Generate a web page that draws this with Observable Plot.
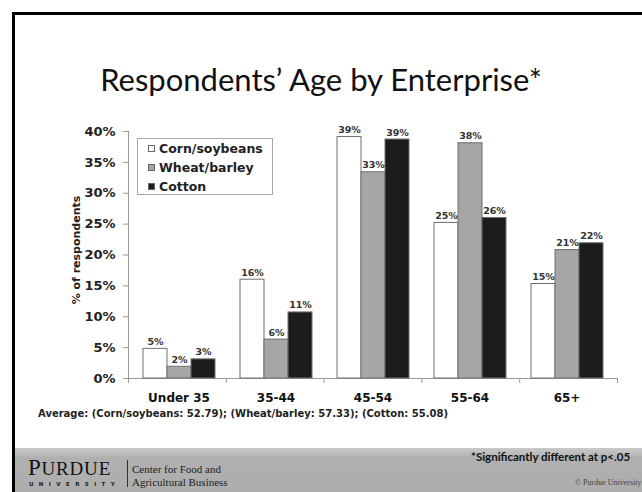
<!DOCTYPE html>
<html><head><meta charset="utf-8">
<script src="https://cdn.jsdelivr.net/npm/d3@7"></script>
<script src="https://cdn.jsdelivr.net/npm/@observablehq/plot@0.6"></script>
<style>
body{margin:0;background:#fff;}
#slide{position:relative;width:642px;height:492px;overflow:hidden;background:#fff;}
.abs{position:absolute;}
#border{left:12px;top:12px;width:660px;height:500px;border:3px solid #000;box-sizing:border-box;}
#title{left:12px;width:618px;top:64px;text-align:center;font-family:Lato,'Open Sans',sans-serif;font-size:31px;line-height:1;color:#111;white-space:nowrap;}
#charts svg{position:absolute;left:0;top:0;}
#ylabel{left:76px;top:250px;width:0;height:0;}
#ylabel span{position:absolute;transform:translate(-50%,-50%) rotate(-90deg);white-space:nowrap;font-family:'DejaVu Sans',Verdana,sans-serif;font-weight:bold;font-size:11px;color:#222;}
#legend{left:137px;top:138px;width:136px;height:57px;border:1px solid #a8a8a8;box-sizing:border-box;background:#fff;font-family:'DejaVu Sans',Verdana,sans-serif;font-weight:bold;font-size:12.5px;color:#222;}
.lrow{position:absolute;left:10px;height:14px;line-height:14px;white-space:nowrap;}
.sw{display:inline-block;width:7px;height:7px;box-sizing:border-box;border:1px solid #666;margin-right:4px;vertical-align:1px;}
#avg{left:38px;top:409px;font-family:'DejaVu Sans',Verdana,sans-serif;font-weight:bold;font-size:10px;line-height:1;color:#222;white-space:nowrap;}
#banner{left:15px;top:448px;width:640px;height:50px;background:linear-gradient(#c9c9c9,#b0b0b0 20%,#adadad);}
#purdue{left:28px;top:459px;font-family:'Liberation Serif','DejaVu Serif',serif;font-size:19px;line-height:18px;height:18px;color:#111;letter-spacing:0.8px;white-space:nowrap;}
#purdue .big{font-size:23px;}
#univ{left:29px;top:481px;font-family:'DejaVu Sans',sans-serif;font-weight:bold;font-size:5.5px;line-height:6px;color:#222;letter-spacing:5.4px;white-space:nowrap;}
#vline{left:127px;top:460px;width:1px;height:27px;background:#333;}
#center{left:132px;top:463px;font-family:'Liberation Serif','DejaVu Serif',serif;font-size:11px;line-height:13px;color:#222;white-space:nowrap;}
#sig{left:471px;top:451px;font-family:Lato,sans-serif;font-weight:bold;font-size:11.5px;line-height:1;color:#111;white-space:nowrap;}
#copy{left:575px;top:479px;font-family:'Liberation Serif',serif;font-size:8px;line-height:1;color:#444;white-space:nowrap;}
</style></head>
<body>
<div id="slide">
  <div id="border" class="abs"></div>
  <div id="title" class="abs">Respondents’ Age by Enterprise*</div>
  <div id="charts" class="abs" style="left:0;top:0;width:642px;height:430px;"></div>
  <div id="ylabel" class="abs"><span>% of respondents</span></div>
  <div id="legend" class="abs"></div>
  <div id="avg" class="abs"></div>
  <div id="banner" class="abs"></div>
  <div id="purdue" class="abs"><span class="big">P</span>URDUE</div>
  <div id="univ" class="abs">UNIVERSITY</div>
  <div id="vline" class="abs"></div>
  <div id="center" class="abs">Center for Food and<br>Agricultural Business</div>
  <div id="sig" class="abs">*Significantly different at p&lt;.05</div>
  <div id="copy" class="abs">© Purdue University</div>
</div>
<script>
// ---- data ----
const ages = ["Under 35", "35-44", "45-54", "55-64", "65+"];
const series = ["Corn/soybeans", "Wheat/barley", "Cotton"];
const cornSoybeans = [4.8, 16.0, 39.1, 25.2, 15.3];
const wheatBarley = [1.9, 6.3, 33.4, 38.1, 20.8];
const cotton = [3.1, 10.7, 38.7, 26.0, 21.9];
const averages = [52.79, 57.33, 55.08];
const yTicks = [0, 5, 10, 15, 20, 25, 30, 35, 40];
const fills = ["#ffffff", "#a6a6a6", "#1c1c1c"];

const valuesBySeries = [cornSoybeans, wheatBarley, cotton];
const rows = [];
ages.forEach((age, i) => series.forEach((s, j) => rows.push({age, series: s, value: valuesBySeries[j][i]})));

const W = 642, H = 430, mL = 128, mR = 25, mT = 131, mB = 52;
const font = "'DejaVu Sans', Verdana, sans-serif";

const axes = Plot.plot({
  width: W, height: H, marginLeft: mL, marginRight: mR, marginTop: mT, marginBottom: mB,
  style: {background: "transparent", fontFamily: font, fontWeight: "bold", color: "#222", overflow: "visible"},
  x: {domain: [0, ages.length], axis: null},
  y: {domain: [0, 40], axis: null},
  marks: [
    Plot.ruleY([0], {stroke: "#9a9a9a"}),
    Plot.ruleX([0], {stroke: "#9a9a9a"}),
    Plot.axisX(d3.range(ages.length + 1), {anchor: "bottom", tickSize: 5, tickFormat: () => "", stroke: "#9a9a9a", label: null}),
    Plot.axisY(yTicks, {anchor: "left", tickSize: 5, tickPadding: 8, tickFormat: d => d + "%", fontSize: 13, stroke: "#9a9a9a", fill: "#222", label: null})
  ]
});

const chart = Plot.plot({
  width: W, height: H, marginLeft: mL, marginRight: mR, marginTop: mT, marginBottom: mB,
  style: {background: "transparent", fontFamily: font, fontWeight: "bold", color: "#222", overflow: "visible"},
  fx: {domain: ages, padding: 0},
  x: {domain: series, paddingInner: 0, paddingOuter: 0.5, axis: null},
  y: {domain: [0, 40], axis: null},
  color: {domain: series, range: fills},
  marks: [
    Plot.barY(rows, {fx: "age", x: "series", y: "value", fill: "series", stroke: "#6e6e6e", strokeWidth: 1}),
    Plot.text(rows, {fx: "age", x: "series", y: "value", text: d => `${Math.round(d.value)}%`, lineAnchor: "bottom", dy: -4, fontSize: 9.5, fill: "#333"}),
    Plot.axisFx({anchor: "bottom", tickSize: 0, tickPadding: 15, fontSize: 12, fill: "#111", label: null})
  ]
});

const holder = document.getElementById("charts");
holder.appendChild(axes);
holder.appendChild(chart);

// legend
const legend = document.getElementById("legend");
series.forEach((s, j) => {
  const r = document.createElement("div");
  r.className = "lrow";
  r.style.top = (3 + j * 18.8) + "px";
  const sw = document.createElement("span");
  sw.className = "sw";
  sw.style.background = fills[j];
  r.appendChild(sw);
  r.appendChild(document.createTextNode(s));
  legend.appendChild(r);
});

document.getElementById("avg").textContent =
  "Average: " + series.map((s, j) => `(${s}: ${averages[j].toFixed(2)})`).join("; ");
</script>
</body></html>
